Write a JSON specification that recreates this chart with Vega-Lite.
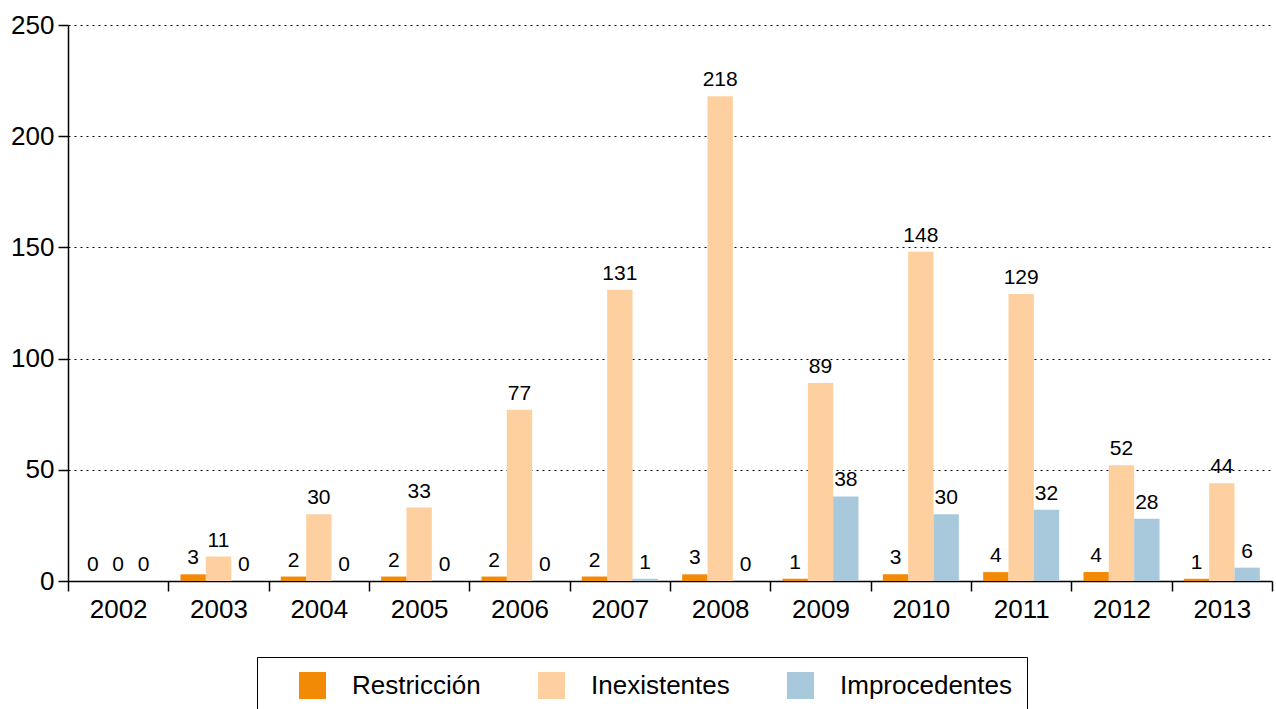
{
  "$schema": "https://vega.github.io/schema/vega-lite/v6.json",
  "width": 1204,
  "height": 556,
  "autosize": {"type": "none"},
  "padding": {"left": 68, "top": 25, "right": 4, "bottom": 128},
  "config": {"font": "Liberation Sans", "view": {"stroke": null}},
  "data": {
    "values": [
      {"year": "2002", "series": "Restricción", "value": 0},
      {"year": "2002", "series": "Inexistentes", "value": 0},
      {"year": "2002", "series": "Improcedentes", "value": 0},
      {"year": "2003", "series": "Restricción", "value": 3},
      {"year": "2003", "series": "Inexistentes", "value": 11},
      {"year": "2003", "series": "Improcedentes", "value": 0},
      {"year": "2004", "series": "Restricción", "value": 2},
      {"year": "2004", "series": "Inexistentes", "value": 30},
      {"year": "2004", "series": "Improcedentes", "value": 0},
      {"year": "2005", "series": "Restricción", "value": 2},
      {"year": "2005", "series": "Inexistentes", "value": 33},
      {"year": "2005", "series": "Improcedentes", "value": 0},
      {"year": "2006", "series": "Restricción", "value": 2},
      {"year": "2006", "series": "Inexistentes", "value": 77},
      {"year": "2006", "series": "Improcedentes", "value": 0},
      {"year": "2007", "series": "Restricción", "value": 2},
      {"year": "2007", "series": "Inexistentes", "value": 131},
      {"year": "2007", "series": "Improcedentes", "value": 1},
      {"year": "2008", "series": "Restricción", "value": 3},
      {"year": "2008", "series": "Inexistentes", "value": 218},
      {"year": "2008", "series": "Improcedentes", "value": 0},
      {"year": "2009", "series": "Restricción", "value": 1},
      {"year": "2009", "series": "Inexistentes", "value": 89},
      {"year": "2009", "series": "Improcedentes", "value": 38},
      {"year": "2010", "series": "Restricción", "value": 3},
      {"year": "2010", "series": "Inexistentes", "value": 148},
      {"year": "2010", "series": "Improcedentes", "value": 30},
      {"year": "2011", "series": "Restricción", "value": 4},
      {"year": "2011", "series": "Inexistentes", "value": 129},
      {"year": "2011", "series": "Improcedentes", "value": 32},
      {"year": "2012", "series": "Restricción", "value": 4},
      {"year": "2012", "series": "Inexistentes", "value": 52},
      {"year": "2012", "series": "Improcedentes", "value": 28},
      {"year": "2013", "series": "Restricción", "value": 1},
      {"year": "2013", "series": "Inexistentes", "value": 44},
      {"year": "2013", "series": "Improcedentes", "value": 6}
    ]
  },
  "encoding": {
    "x": {
      "field": "year",
      "type": "nominal",
      "scale": {"paddingInner": 0, "paddingOuter": 0},
      "axis": {
        "title": null,
        "tickBand": "extent",
        "labelAngle": 0,
        "labelFontSize": 26,
        "labelColor": "black",
        "domainColor": "black",
        "domainWidth": 1.5,
        "tickColor": "black",
        "tickWidth": 1.5,
        "tickSize": 10,
        "labelPadding": 5,
        "grid": false
      }
    },
    "xOffset": {
      "field": "series",
      "type": "nominal",
      "sort": ["Restricción", "Inexistentes", "Improcedentes"],
      "scale": {"paddingInner": 0, "paddingOuter": 0.48}
    },
    "y": {
      "field": "value",
      "type": "quantitative",
      "scale": {"domain": [0, 250], "nice": false},
      "axis": {
        "title": null,
        "values": [0, 50, 100, 150, 200, 250],
        "labelFontSize": 26,
        "labelColor": "black",
        "labelPadding": 4,
        "domainColor": "black",
        "domainWidth": 1.5,
        "tickColor": "black",
        "tickWidth": 1.5,
        "tickSize": 10,
        "grid": true,
        "gridColor": "black",
        "gridDash": [2, 4],
        "gridWidth": 1
      }
    }
  },
  "layer": [
    {
      "mark": {"type": "bar"},
      "encoding": {
        "color": {
          "field": "series",
          "type": "nominal",
          "scale": {
            "domain": ["Restricción", "Inexistentes", "Improcedentes"],
            "range": ["#F38A06", "#FECF9F", "#A8C8DB"]
          },
          "legend": {
            "title": null,
            "orient": "none",
            "direction": "horizontal",
            "legendX": 189,
            "legendY": 632,
            "strokeColor": "black",
            "padding": 15,
            "symbolOffset": 27,
            "symbolType": "square",
            "symbolSize": 729,
            "symbolStrokeWidth": 0,
            "symbolOpacity": 1,
            "labelFontSize": 26,
            "labelColor": "black",
            "labelOffset": 26,
            "labelLimit": 0,
            "columnPadding": 30
          }
        }
      }
    },
    {
      "mark": {"type": "text", "baseline": "bottom", "dy": -6, "fontSize": 21, "color": "black"},
      "encoding": {
        "text": {"field": "value", "type": "quantitative"}
      }
    }
  ]
}
